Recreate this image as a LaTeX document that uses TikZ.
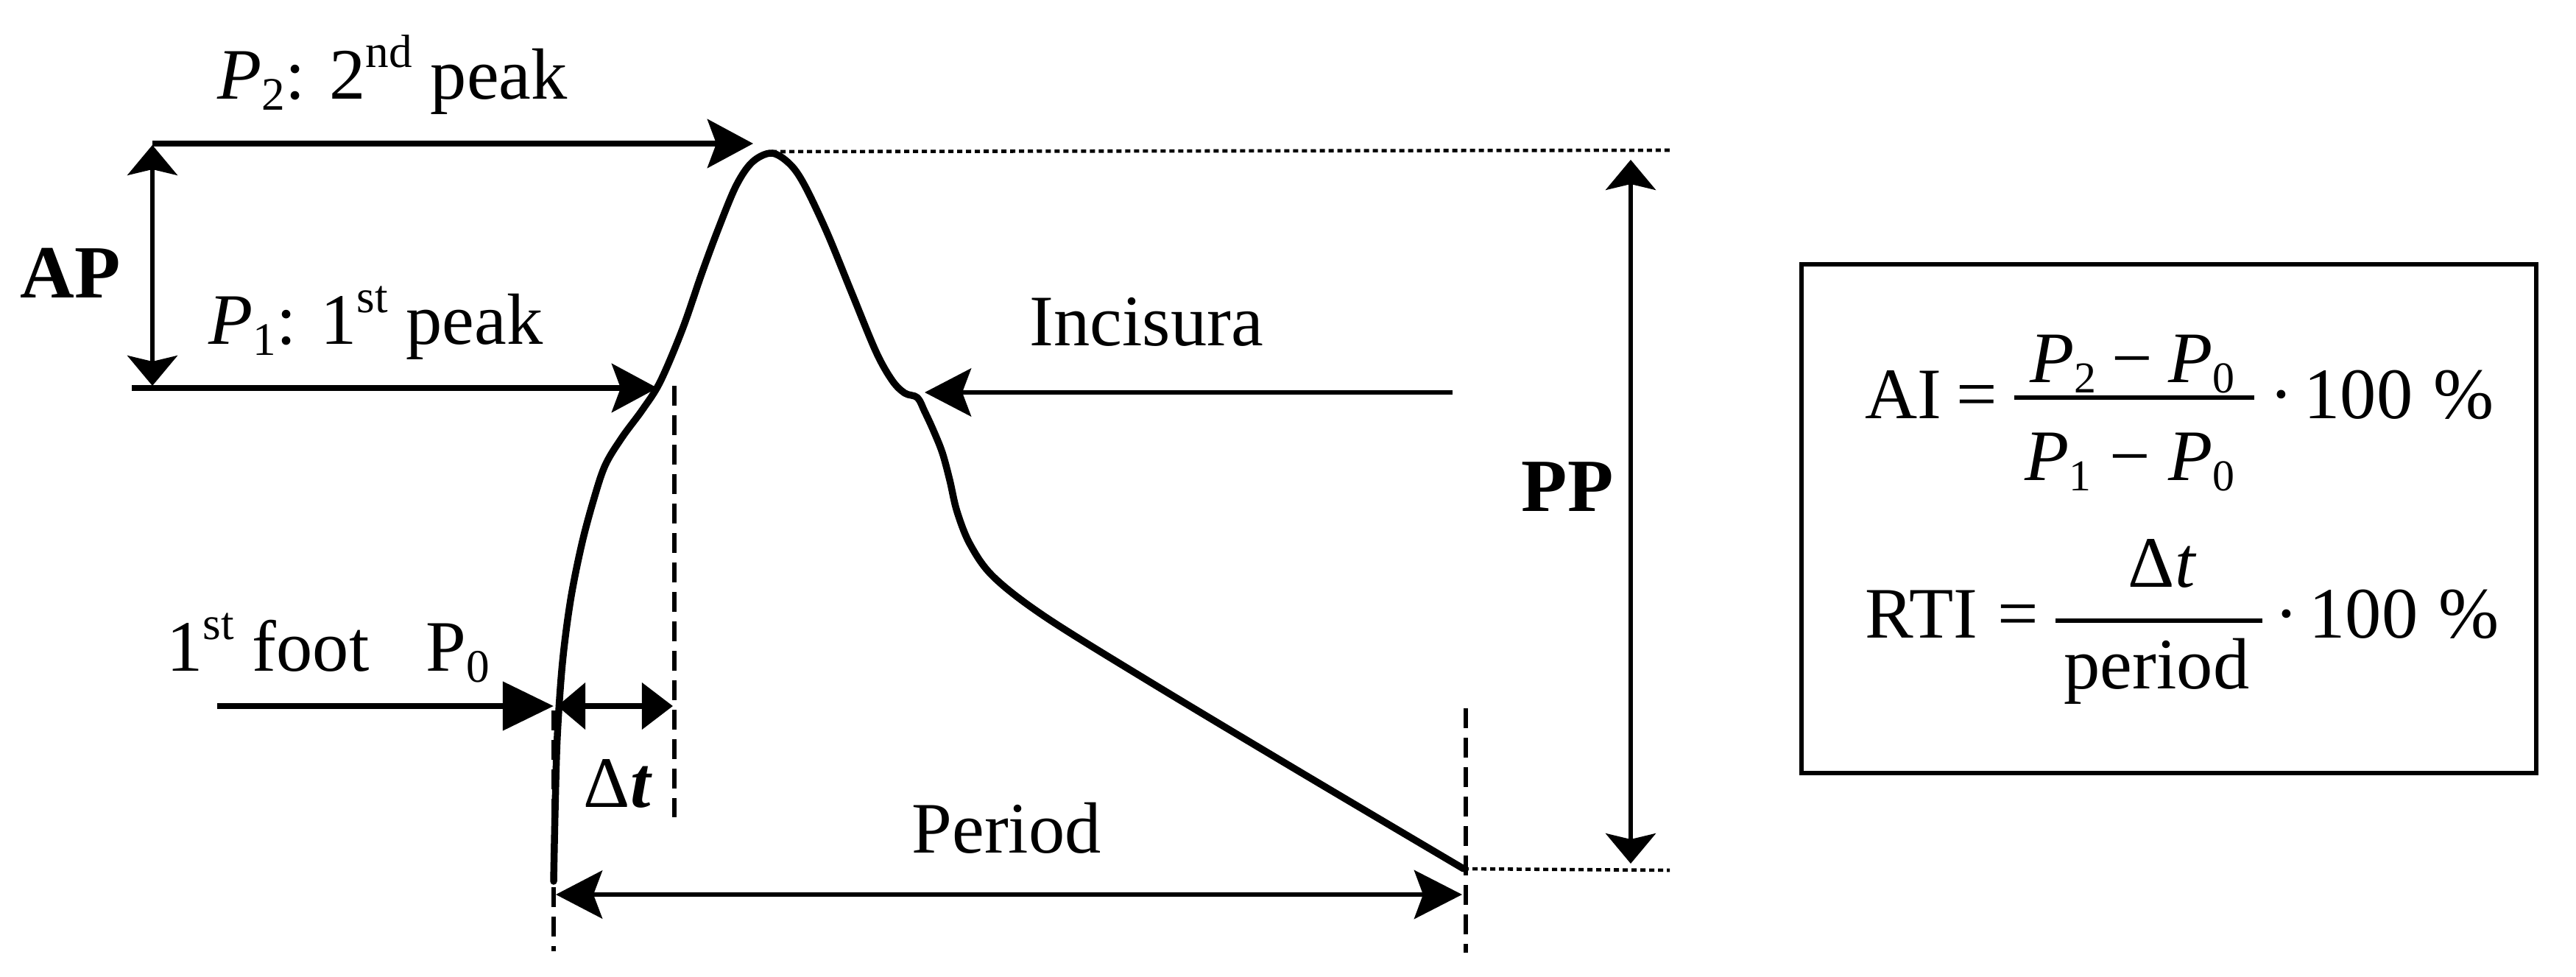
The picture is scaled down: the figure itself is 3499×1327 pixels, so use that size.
\documentclass[tikz,border=0pt]{standalone}
\usepackage{fontspec}
\setmainfont{Liberation Serif}
\usetikzlibrary{arrows.meta}
\newcommand{\lbsub}[1]{\raisebox{-4.5pt}{\fontsize{18}{18}\selectfont #1}}
\newcommand{\lbsup}[1]{\raisebox{12pt}{\fontsize{18}{18}\selectfont #1}}
\newcommand{\fmsub}[1]{\raisebox{-4pt}{\fontsize{17}{17}\selectfont #1}}
\begin{document}
\begin{tikzpicture}[x=0.01cm,y=-0.01cm,
  lbl/.style={inner sep=0pt, anchor=base west, font=\fontsize{28}{34}\selectfont},
  blbl/.style={inner sep=0pt, anchor=base west, font=\fontsize{29}{34}\selectfont\bfseries},
  wave/.style={line width=2.7pt, line join=round, line cap=round},
  bigarr/.style={line width=2.2pt, -{Stealth[length=0.62cm,width=0.66cm,inset=0.12cm]}},
  midarr/.style={line width=1.8pt, -{Stealth[length=0.63cm,width=0.65cm,inset=0.12cm]}},
  perarr/.style={line width=1.8pt, {Stealth[length=0.63cm,width=0.65cm,inset=0.12cm]}-{Stealth[length=0.65cm,width=0.66cm,inset=0.12cm]}},
  dimarr/.style={line width=1.5pt, {Stealth[length=0.41cm,width=0.68cm,inset=0.08cm]}-{Stealth[length=0.41cm,width=0.68cm,inset=0.08cm]}},
  footarr/.style={line width=2.2pt, -{Triangle[length=0.69cm,width=0.65cm]}},
  dtarr/.style={line width=2.2pt, {Triangle[length=0.38cm,width=0.62cm]}-{Triangle[length=0.42cm,width=0.62cm]}},
  dashln/.style={line width=1.8pt, dash pattern=on 0.27cm off 0.13cm},
  dotln/.style={line width=1.3pt, dash pattern=on 0.07cm off 0.05cm},
  fbar/.style={line width=1.8pt},
  framebox/.style={line width=1.8pt}
]
\path[use as bounding box] (0,0) rectangle (3499,1327);

% key coordinates
\coordinate (peak) at (1048,206);
\coordinate (p2start) at (207,195);
\coordinate (p2tip) at (1023,195);
\coordinate (aptop) at (207,197);
\coordinate (apbot) at (207,524);
\coordinate (p1start) at (179,527);
\coordinate (p1tip) at (893,527);
\coordinate (dottopend) at (2268,204);
\coordinate (pptop) at (2215,217);
\coordinate (ppbot) at (2215,1173);
\coordinate (endpt) at (1988,1180);
\coordinate (dotbotend) at (2268,1182);
\coordinate (incstart) at (1973,533);
\coordinate (inctip) at (1256,533);
\coordinate (footstart) at (295,959);
\coordinate (foottip) at (752,959);
\coordinate (dtleft) at (757,959);
\coordinate (dtright) at (914,959);
\coordinate (perleft) at (755,1215);
\coordinate (perright) at (1986,1215);
\coordinate (dsAtop) at (752,965);
\coordinate (dsAbot) at (752,1292);
\coordinate (dsBtop) at (916,524);
\coordinate (dsBbot) at (916,1110);
\coordinate (dsCtop) at (1991,962);
\coordinate (dsCbot) at (1991,1294);

% pulse wave
\draw[wave] plot[smooth, tension=0.55] coordinates {
 (752,1197) (754,1100) (757,1000) (764,900) (775,815) (790,740) (806,680)
 (822,632) (845,594) (873,556) (897,518) (927,447) (953,372) (976,310)
 (1000,252) (1022,220) (1048,208) (1072,222) (1092,250) (1123,315)
 (1157,398) (1190,478) (1212,517) (1229,534) (1246,540) (1256,559)
 (1268,585) (1280,615) (1290,652) (1300,695) (1318,740) (1350,784)
 (1420,838) (1560,925) (1760,1045) (1988,1180)};

% reference lines
\draw[dotln] (peak) -- (dottopend);
\draw[dotln] (endpt) -- (dotbotend);
\draw[dashln] (dsAtop) -- (dsAbot);
\draw[dashln] (dsBtop) -- (dsBbot);
\draw[dashln] (dsCtop) -- (dsCbot);

% arrows
\draw[bigarr] (p2start) -- (p2tip);
\draw[bigarr] (p1start) -- (p1tip);
\draw[dimarr] (aptop) -- (apbot);
\draw[dimarr] (pptop) -- (ppbot);
\draw[midarr] (incstart) -- (inctip);
\draw[perarr] (perleft) -- (perright);
\draw[footarr] (footstart) -- (foottip);
\draw[dtarr] (dtleft) -- (dtright);

% labels
\node[lbl] (lp2) at (295,134) {\textit{P}\lbsub{2}: 2\lbsup{nd} peak};
\node[lbl] (lp1) at (283,467) {\textit{P}\lbsub{1}: 1\lbsup{st} peak};
\node[blbl] (lap) at (27,404) {AP};
\node[lbl] (linc) at (1398,469) {Incisura};
\node[blbl] (lpp) at (2066,694) {PP};
\node[lbl] (lfoot) at (226,911) {1\lbsup{st} foot};
\node[lbl] (lp0) at (578,911) {P\lbsub{0}};
\node[lbl] (ldt) at (792,1096) {Δ\textbf{\textit{t}}};
\node[lbl] (lper) at (1238,1158) {Period};

% formula box
\draw[framebox] (2447,359) rectangle (3445,1050);
\node[lbl] (fai) at (2533,568) {AI};
\node[lbl] (feq1) at (2657,568) {=};
\node[lbl] (fnum1) at (2757,519) {\textit{P}\fmsub{2}\hspace{6pt}−\hspace{6pt}\textit{P}\fmsub{0}};
\node[lbl] (fden1) at (2750,652) {\textit{P}\fmsub{1}\hspace{7pt}−\hspace{7pt}\textit{P}\fmsub{0}};
\coordinate (bar1a) at (2736,540);
\coordinate (bar1b) at (3062,540);
\draw[fbar] (bar1a) -- (bar1b);
\node[lbl] (fdot1) at (3082,568) {·};
\node[lbl] (fhun1) at (3129,568) {100\hspace{8pt}\%};

\node[lbl] (frti) at (2533,866) {RTI};
\node[lbl] (feq2) at (2713,866) {=};
\node[lbl] (fnum2) at (2890,797) {Δ\textit{t}};
\node[lbl] (fden2) at (2803,935) {period};
\coordinate (bar2a) at (2792,843);
\coordinate (bar2b) at (3073,843);
\draw[fbar] (bar2a) -- (bar2b);
\node[lbl] (fdot2) at (3089,866) {·};
\node[lbl] (fhun2) at (3136,866) {100\hspace{8pt}\%};
\end{tikzpicture}
\end{document}
